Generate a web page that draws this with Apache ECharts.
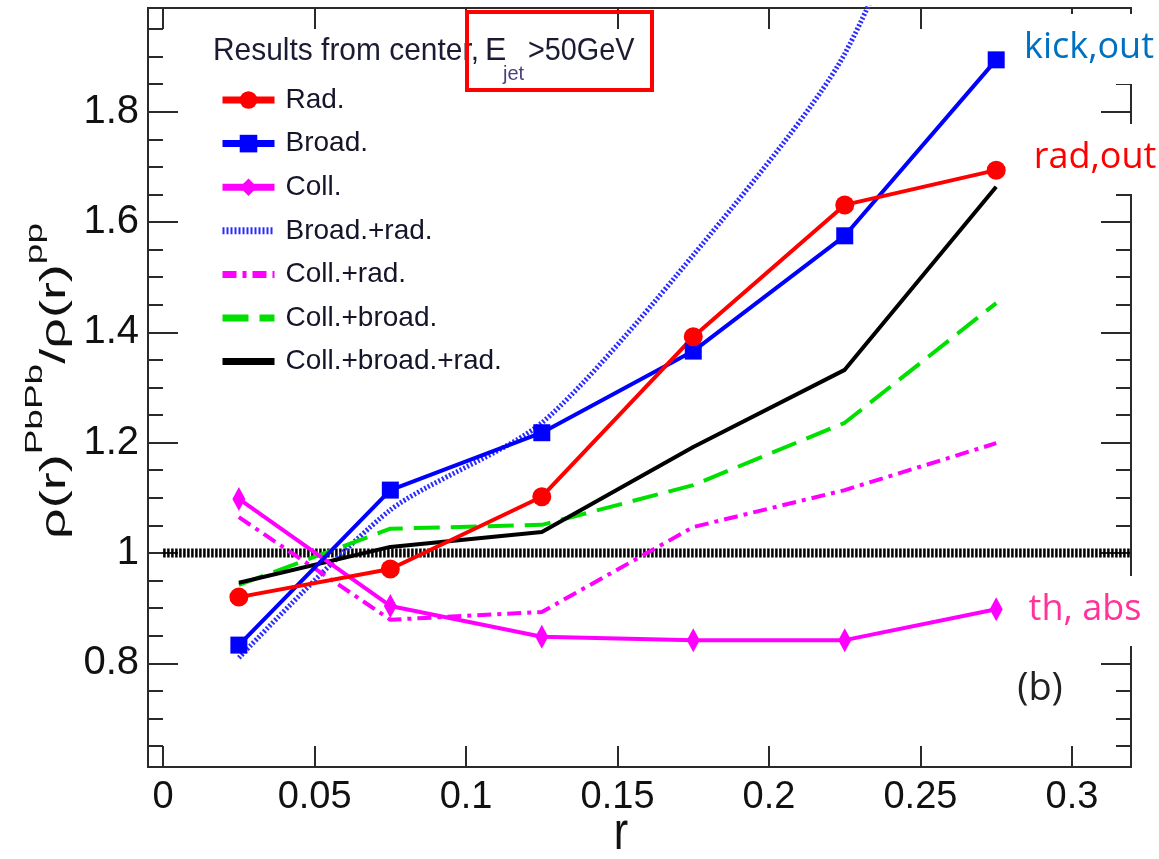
<!DOCTYPE html>
<html>
<head>
<meta charset="utf-8">
<script src="https://cdn.jsdelivr.net/npm/echarts@6/dist/echarts.min.js"></script>
<style>
  html, body { margin: 0; padding: 0; background: #fff; }
  #chart { width: 1159px; height: 859px; }
</style>
</head>
<body>
<div id="chart"></div>
<script>
// r bin centres
var rValues = [0.025, 0.075, 0.125, 0.175, 0.225, 0.275];

// rho(r)^PbPb / rho(r)^pp
var radData = [0.920, 0.971, 1.102, 1.392, 1.631, 1.694];
var broadData = [0.833, 1.114, 1.218, 1.366, 1.575, 1.894];
var collData = [1.098, 0.904, 0.848, 0.842, 0.842, 0.898];
var broadRadData = [0.810, 1.078, 1.236, 1.540, 1.905, 2.55];
var collRadData = [1.065, 0.879, 0.893, 1.047, 1.114, 1.199];
var collBroadData = [0.942, 1.044, 1.051, 1.123, 1.236, 1.453];
var allData = [0.946, 1.011, 1.038, 1.192, 1.332, 1.664];

// unity reference line
var refX = [0, 0.3195];
var refY = [1, 1];

// ticks
var xTicks = [0, 0.05, 0.1, 0.15, 0.2, 0.25, 0.3];
var yTicks = [0.8, 1, 1.2, 1.4, 1.6, 1.8];
var yMinorTicks = [0.65, 0.7, 0.75, 0.85, 0.9, 0.95, 1.05, 1.1, 1.15, 1.25, 1.3, 1.35,
                   1.45, 1.5, 1.55, 1.65, 1.7, 1.75, 1.85, 1.9, 1.95];

var sans = "'Liberation Sans', Arial, sans-serif";
var axisColor = '#2a2a2a';

function pairs(ys) {
  return ys.map(function (y, i) { return [rValues[i], y]; });
}

var chart = echarts.init(document.getElementById('chart'));

function xAxisDef(pos, showLabel) {
  return {
    type: 'value',
    position: pos,
    min: -0.005,
    max: 0.3195,
    splitLine: { show: false },
    axisLine: { show: true, onZero: false, lineStyle: { color: axisColor, width: 2 } },
    axisTick: { show: true, inside: true, length: 21, customValues: xTicks,
      lineStyle: { color: axisColor, width: 2 } },
    axisLabel: { show: showLabel, customValues: xTicks, margin: 12,
      fontFamily: sans, fontSize: 38, color: '#111' }
  };
}

function yAxisDef(pos, ticks, len, showLabel) {
  return {
    type: 'value',
    position: pos,
    min: 0.612,
    max: 1.988,
    splitLine: { show: false },
    axisLine: { show: true, onZero: false, lineStyle: { color: axisColor, width: 2 } },
    axisTick: { show: true, inside: true, length: len, customValues: ticks,
      lineStyle: { color: axisColor, width: 2 } },
    axisLabel: { show: showLabel, customValues: ticks, margin: 9,
      fontFamily: sans, fontSize: 40, color: '#111' }
  };
}

var series = [
  {
    name: 'ref', type: 'line', data: refX.map(function (x, i) { return [x, refY[i]]; }),
    symbol: 'none', silent: true, z: 1,
    lineStyle: { color: '#000', width: 9, type: [2.5, 1.5] }
  },
  {
    name: 'Broad.+rad.', type: 'line', data: pairs(broadRadData), symbol: 'none', smooth: 0.25,
    lineStyle: { color: '#2b2bff', width: 5, type: [2, 2] }, itemStyle: { color: '#2b2bff' }
  },
  {
    name: 'Coll.+rad.', type: 'line', data: pairs(collRadData), symbol: 'none',
    lineStyle: { color: '#ff00ff', width: 4, type: [14, 6, 4, 6] }, itemStyle: { color: '#ff00ff' }
  },
  {
    name: 'Coll.+broad.', type: 'line', data: pairs(collBroadData), symbol: 'none',
    lineStyle: { color: '#00e000', width: 4, type: [26, 11] }, itemStyle: { color: '#00e000' }
  },
  {
    name: 'Coll.+broad.+rad.', type: 'line', data: pairs(allData), symbol: 'none',
    lineStyle: { color: '#000', width: 4 }, itemStyle: { color: '#000' }
  },
  {
    name: 'Coll.', type: 'line', data: pairs(collData), symbol: 'diamond', symbolSize: [13, 24],
    lineStyle: { color: '#ff00ff', width: 4 }, itemStyle: { color: '#ff00ff' }
  },
  {
    name: 'Broad.', type: 'line', data: pairs(broadData), symbol: 'rect', symbolSize: 17,
    lineStyle: { color: '#0000ff', width: 4 }, itemStyle: { color: '#0000ff' }
  },
  {
    name: 'Rad.', type: 'line', data: pairs(radData), symbol: 'circle', symbolSize: 19,
    lineStyle: { color: '#ff0000', width: 4 }, itemStyle: { color: '#ff0000' }
  }
];
series.forEach(function (s) { s.animation = false; s.clip = true; });

var hidden = { opacity: 0 };

var option = {
  backgroundColor: '#fff',
  animation: false,
  grid: { left: 148, right: 28, top: 8, bottom: 92, containLabel: false },
  legend: {
    orient: 'vertical',
    left: 214,
    top: 81,
    itemWidth: 52,
    itemHeight: 22,
    itemGap: 15.6,
    lineStyle: { width: 7 },
    data: [
      { name: 'Rad.' },
      { name: 'Broad.' },
      { name: 'Coll.' },
      { name: 'Broad.+rad.', itemStyle: hidden },
      { name: 'Coll.+rad.', itemStyle: hidden },
      { name: 'Coll.+broad.', itemStyle: hidden },
      { name: 'Coll.+broad.+rad.', itemStyle: hidden }
    ],
    textStyle: { fontFamily: sans, fontSize: 28, color: '#15152a', padding: [0, 0, 0, 6] }
  },
  xAxis: [xAxisDef('bottom', true), xAxisDef('top', false)],
  yAxis: [
    yAxisDef('left', yTicks, 30, true),
    yAxisDef('left', yMinorTicks, 15, false),
    yAxisDef('right', yTicks, 30, false),
    yAxisDef('right', yMinorTicks, 15, false)
  ],
  series: series,
  graphic: [
    // title line of the legend
    { type: 'text', x: 213, y: 35, scaleX: 0.935, z: 10,
      style: { text: 'Results from center,', font: '32px ' + sans, fill: '#1b1b33' } },
    { type: 'text', x: 485, y: 35, z: 10,
      style: { text: 'E', font: '32px ' + sans, fill: '#1b1b33' } },
    { type: 'text', x: 503, y: 64, z: 10,
      style: { text: 'jet', font: '20px ' + sans, fill: '#4b3f7a' } },
    { type: 'text', x: 528, y: 35, scaleX: 0.9, z: 10,
      style: { text: '>50GeV', font: '32px ' + sans, fill: '#1b1b33' } },
    { type: 'rect', z: 11, shape: { x: 467, y: 12, width: 185, height: 78 },
      style: { fill: 'none', stroke: '#ff0000', lineWidth: 4 } },
    // y axis name
    { type: 'text', x: 48, y: 381, rotation: Math.PI / 2, scaleY: 0.64, z: 10,
      style: {
        text: '{m|ρ(r)}{s|PbPb}{m|/ρ(r)}{s|pp}',
        align: 'center', verticalAlign: 'middle',
        rich: {
          m: { fontFamily: sans, fontSize: 54, lineHeight: 76, verticalAlign: 'bottom', fill: '#111' },
          s: { fontFamily: sans, fontSize: 37, lineHeight: 37, padding: [0, 0, 39, 0], verticalAlign: 'top', fill: '#111' }
        }
      } },
    // x axis name
    { type: 'text', x: 621, y: 834, scaleX: 0.8, z: 10,
      style: { text: 'r', font: '54px ' + sans, fill: '#111', align: 'center', verticalAlign: 'middle' } },
    // panel tag
    { type: 'text', x: 1040, y: 689, z: 10,
      style: { text: '(b)', font: '38px "Open Sans", sans-serif', fill: '#222', align: 'center', verticalAlign: 'middle' } },
    // annotations on the right
    { type: 'rect', z: 12, shape: { x: 1018, y: 14, width: 141, height: 70 }, style: { fill: '#fff' } },
    { type: 'text', x: 1089, y: 48, z: 13,
      style: { text: 'kick,out', font: '36px "Open Sans", sans-serif', fill: '#0070c0', align: 'center', verticalAlign: 'middle' } },
    { type: 'rect', z: 12, shape: { x: 1028, y: 124, width: 131, height: 70 }, style: { fill: '#fff' } },
    { type: 'text', x: 1095, y: 158, z: 13,
      style: { text: 'rad,out', font: '36px "Open Sans", sans-serif', fill: '#ff0000', align: 'center', verticalAlign: 'middle' } },
    { type: 'rect', z: 12, shape: { x: 1022, y: 576, width: 130, height: 70 }, style: { fill: '#fff' } },
    { type: 'text', x: 1085, y: 610, z: 13,
      style: { text: 'th, abs', font: '36px "Open Sans", sans-serif', fill: '#ff3399', align: 'center', verticalAlign: 'middle' } }
  ]
};

chart.setOption(option);
</script>
</body>
</html>
